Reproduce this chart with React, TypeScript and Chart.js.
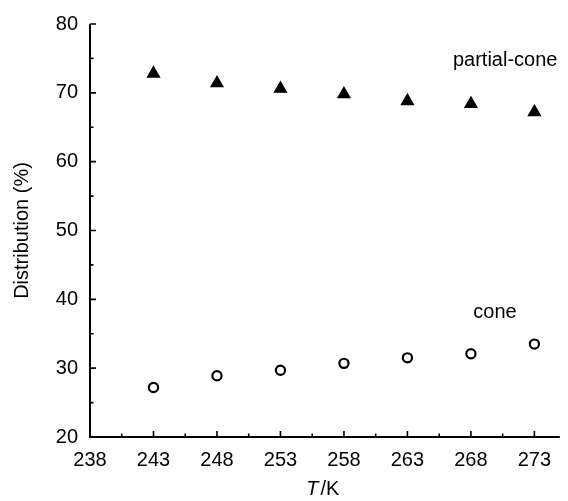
import React, { useEffect, useRef } from "react";
import { Chart, registerables } from "chart.js";

Chart.register(...registerables);

const temperatures = [243, 248, 253, 258, 263, 268, 273];
const partialCone = [72.8, 71.4, 70.6, 69.8, 68.8, 68.4, 67.2];
const cone = [27.2, 28.9, 29.7, 30.7, 31.5, 32.1, 33.5];
const xTickValues = [238, 243, 248, 253, 258, 263, 268, 273];
const xMinorValues = [240.5, 245.5, 250.5, 255.5, 260.5, 265.5, 270.5];
const yTickValues = [20, 30, 40, 50, 60, 70, 80];
const yMinorValues = [25, 35, 45, 55, 65, 75];
const seriesLabels = ["partial-cone", "cone"];
const labelPositions = [
  { x: 270.7, y: 74.7 },
  { x: 269.9, y: 38.1 },
];

const FONT = "'Liberation Sans', Arial, Helvetica, sans-serif";

const decorPlugin = {
  id: "decor",
  afterDraw(chart: any) {
    const ctx = chart.ctx;
    const xs = chart.scales.x;
    const ys = chart.scales.y;
    const area = chart.chartArea;
    ctx.save();
    ctx.strokeStyle = "#000";
    ctx.lineCap = "butt";
    // axis lines
    ctx.lineWidth = 2;
    ctx.beginPath();
    ctx.moveTo(area.left, area.top);
    ctx.lineTo(area.left, area.bottom);
    ctx.lineTo(area.right, area.bottom);
    ctx.stroke();
    // ticks pointing inward
    ctx.lineWidth = 1.6;
    ctx.beginPath();
    yTickValues.forEach((v) => {
      const p = ys.getPixelForValue(v);
      ctx.moveTo(area.left, p);
      ctx.lineTo(area.left + 6, p);
    });
    yMinorValues.forEach((v) => {
      const p = ys.getPixelForValue(v);
      ctx.moveTo(area.left, p);
      ctx.lineTo(area.left + 3.5, p);
    });
    xTickValues.forEach((v) => {
      const p = xs.getPixelForValue(v);
      ctx.moveTo(p, area.bottom);
      ctx.lineTo(p, area.bottom - 6);
    });
    xMinorValues.forEach((v) => {
      const p = xs.getPixelForValue(v);
      ctx.moveTo(p, area.bottom);
      ctx.lineTo(p, area.bottom - 3.5);
    });
    ctx.stroke();

    // series labels
    ctx.fillStyle = "#000";
    ctx.font = `20px ${FONT}`;
    ctx.textAlign = "center";
    ctx.textBaseline = "middle";
    seriesLabels.forEach((t, i) => {
      ctx.fillText(
        t,
        xs.getPixelForValue(labelPositions[i].x),
        ys.getPixelForValue(labelPositions[i].y)
      );
    });

    // y title
    ctx.save();
    ctx.translate(22, (area.top + area.bottom) / 2);
    ctx.rotate(-Math.PI / 2);
    ctx.fillText("Distribution (%)", 0, 0);
    ctx.restore();

    // x title: italic T + "/K"
    const cx = (area.left + area.right) / 2 - 2;
    const ty = 489;
    ctx.font = `italic 20px ${FONT}`;
    const wT = ctx.measureText("T").width;
    ctx.font = `20px ${FONT}`;
    const wK = ctx.measureText("/K").width;
    const gap = 2;
    const total = wT + gap + wK;
    const start = cx - total / 2;
    ctx.textAlign = "left";
    ctx.font = `italic 20px ${FONT}`;
    ctx.fillText("T", start, ty);
    ctx.font = `20px ${FONT}`;
    ctx.fillText("/K", start + wT + gap, ty);
    ctx.restore();
  },
};

export default function App() {
  const canvasRef = useRef<HTMLCanvasElement | null>(null);

  useEffect(() => {
    if (!canvasRef.current) return;
    const chart = new Chart(canvasRef.current, {
      type: "scatter",
      data: {
        datasets: [
          {
            label: seriesLabels[0],
            data: temperatures.map((t, i) => ({ x: t, y: partialCone[i] })),
            pointStyle: "triangle",
            pointRadius: 7,
            pointBorderWidth: 1.2,
            backgroundColor: "#000",
            borderColor: "#000",
          },
          {
            label: seriesLabels[1],
            data: temperatures.map((t, i) => ({ x: t, y: cone[i] })),
            pointStyle: "circle",
            pointRadius: 4.6,
            pointBorderWidth: 2.2,
            backgroundColor: "#fff",
            borderColor: "#000",
          },
        ],
      },
      options: {
        responsive: false,
        animation: false,
        events: [],
        layout: { padding: { left: 0, top: 21, right: 5, bottom: 0 } },
        plugins: {
          legend: { display: false },
          tooltip: { enabled: false },
          title: { display: false },
        },
        scales: {
          x: {
            type: "linear",
            min: 238,
            max: 275,
            afterBuildTicks: (scale: any) => {
              scale.ticks = xTickValues.map((v) => ({ value: v }));
            },
            afterFit: (scale: any) => {
              scale.height = 64;
            },
            grid: { display: false, drawTicks: false },
            border: { display: false },
            ticks: {
              color: "#000",
              padding: 11,
              maxRotation: 0,
              autoSkip: false,
              font: { family: FONT, size: 20 },
              callback: (v: any) => String(v),
            },
          },
          y: {
            type: "linear",
            min: 20,
            max: 80,
            afterBuildTicks: (scale: any) => {
              scale.ticks = yTickValues.map((v) => ({ value: v }));
            },
            afterFit: (scale: any) => {
              scale.width = 90;
            },
            grid: { display: false, drawTicks: false },
            border: { display: false },
            ticks: {
              color: "#000",
              padding: 12,
              font: { family: FONT, size: 20 },
              callback: (v: any) => String(v),
            },
          },
        },
      },
      plugins: [decorPlugin],
    });
    return () => chart.destroy();
  }, []);

  return (
    <div style={{ position: "absolute", left: 0, top: 0, width: 568, height: 501, background: "#fff" }}>
      <canvas ref={canvasRef} width={568} height={501} style={{ display: "block" }} />
    </div>
  );
}
